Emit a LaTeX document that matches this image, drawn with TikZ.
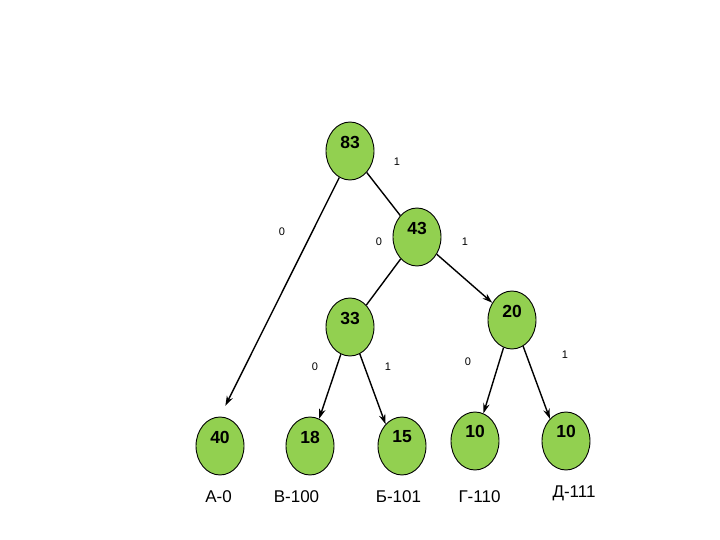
\documentclass[tikz,border=0pt]{standalone}
\usepackage{fontspec}
\setmainfont{Liberation Sans}
\usetikzlibrary{shapes.geometric,arrows.meta}
\definecolor{leafgreen}{RGB}{146,208,80}
\tikzset{
  vert/.style={ellipse,draw=black,line width=0.9pt,fill=leafgreen,minimum width=48pt,minimum height=58pt,inner sep=0pt},
  num/.style={font=\fontsize{17.5}{20}\selectfont\bfseries,inner sep=0pt},
  code/.style={font=\fontsize{17}{20}\selectfont,inner sep=0pt,anchor=base},
  bit/.style={font=\fontsize{11}{13}\selectfont,inner sep=0pt},
  edge/.style={line width=1.4pt},
  arr/.style={line width=1.4pt,-{Stealth[length=10pt,width=6.5pt]}}
}
\begin{document}
\begin{tikzpicture}[x=1pt,y=-1pt]
\useasboundingbox (0,0) rectangle (720,540);
% vertices
\node[vert] (n83) at (350,151) {};
\node[vert] (n43) at (417,237) {};
\node[vert] (n33) at (350,327) {};
\node[vert] (n20) at (512,320) {};
\node[vert] (n40) at (220,446) {};
\node[vert] (n18) at (310,446) {};
\node[vert] (n15) at (402,446) {};
\node[vert] (n10a) at (475,441) {};
\node[vert] (n10b) at (566,441) {};
% weights
\node[num] (t83) at ([yshift=8.5pt]n83.center) {83};
\node[num] (t43) at ([yshift=9pt]n43.center) {43};
\node[num] (t33) at ([yshift=9pt]n33.center) {33};
\node[num] (t20) at ([yshift=9pt]n20.center) {20};
\node[num] (t40) at ([yshift=9pt]n40.center) {40};
\node[num] (t18) at ([yshift=9pt]n18.center) {18};
\node[num] (t15) at ([yshift=9pt]n15.center) {15};
\node[num] (t10a) at ([yshift=9.5pt]n10a.center) {10};
\node[num] (t10b) at ([yshift=9.5pt]n10b.center) {10};
% connectors
\draw[arr,shorten >=12pt] (n83.248) -- (n40.north);
\draw[edge] (n83) -- (n43);
\draw[edge] (n43) -- (n33);
\draw[arr] (n43) -- (n20);
\draw[arr] (n33) -- (n18);
\draw[arr] (n33.-70) -- (n15.127);
\draw[arr] (n20) -- (n10a);
\draw[arr] (n20.-67) -- (n10b.126);
% bit labels
\node[bit] (b1) at (397,162) {1};
\node[bit] (b2) at (282,232) {0};
\node[bit] (b3) at (379,242) {0};
\node[bit] (b4) at (465,242) {1};
\node[bit] (b5) at (315,367) {0};
\node[bit] (b6) at (388,367) {1};
\node[bit] (b7) at (468,362) {0};
\node[bit] (b8) at (565,355) {1};
% codes
\node[code] (cA) at (218.5,502) {А-0};
\node[code] (cV) at (296.5,502) {В-100};
\node[code] (cB) at (398.5,502) {Б-101};
\node[code] (cG) at (479.5,502) {Г-110};
\node[code] (cD) at (574,497) {Д-111};
\end{tikzpicture}
\end{document}
